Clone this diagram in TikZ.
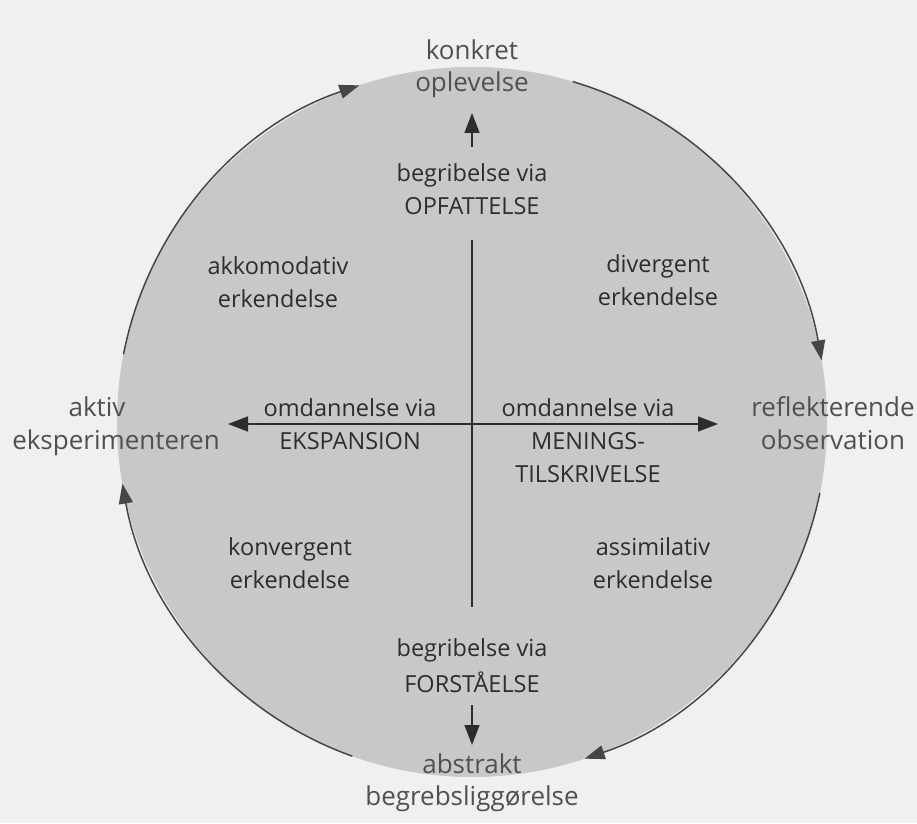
\documentclass[tikz,border=0pt]{standalone}
\usepackage{fontspec}
\setmainfont{Open Sans}
\usetikzlibrary{arrows.meta,calc}
\definecolor{bgpaper}{RGB}{240,240,238}
\definecolor{circfill}{RGB}{200,200,198}
\definecolor{inktext}{RGB}{45,45,45}
\definecolor{outtext}{RGB}{80,80,80}
\definecolor{arcink}{RGB}{70,70,70}
\tikzset{
  lbl/.style={anchor=base, inner sep=0pt, text=inktext, font=\fontsize{23.5}{30}\selectfont},
  outlbl/.style={lbl, text=outtext, font=\fontsize{26}{32}\selectfont},
  arcline/.style={draw=arcink, line width=1.5pt, -{Triangle[length=20pt,width=14pt]}},
  axisline/.style={draw=inktext, line width=1.5pt, -{Triangle[length=20pt,width=15pt]}},
  plainaxis/.style={draw=inktext, line width=1.5pt}
}
\begin{document}
\begin{tikzpicture}[x=1pt,y=1pt]
\useasboundingbox (0,0) rectangle (917,823);
\fill[bgpaper] (0,0) rectangle (917,823);
\coordinate (c) at (472,401);
\fill[circfill] (c) circle[radius=355];
% circle arcs, clockwise, broken at the four poles
\coordinate (a1) at ($(c)+(169:355)$);
\coordinate (a2) at ($(c)+(73.5:355)$);
\coordinate (a3) at ($(c)+(-11.5:355)$);
\coordinate (a4) at ($(c)+(-109.7:355)$);
\draw[arcline] (a1) arc[start angle=169, end angle=108.5, radius=355];
\draw[arcline] (a2) arc[start angle=73.5, end angle=10, radius=355];
\draw[arcline] (a3) arc[start angle=-11.5, end angle=-71.5, radius=355];
\draw[arcline] (a4) arc[start angle=-109.7, end angle=-170, radius=355];

% top
\node[outlbl] (konkret) at (472,763) {konkret};
\node[outlbl] (oplevelse) at (472,731) {oplevelse};
\node[lbl] (begrib1) at (472,641) {begribelse via};
\node[lbl] (opfatt) at (472,608) {OPFATTELSE};
\coordinate (upbase) at (472,676);
\coordinate (uptip) at (472,710);
\draw[axisline] (upbase) -- (uptip);

% vertical axis
\coordinate (vtop) at (472,583);
\coordinate (vbot) at (472,216);
\draw[plainaxis] (vtop) -- (vbot);

% quadrants
\node[lbl] (akk) at (278,548) {akkomodativ};
\node[lbl] (erk1) at (278,515) {erkendelse};
\node[lbl] (div) at (658,550) {divergent};
\node[lbl] (erk2) at (658,517) {erkendelse};
\node[lbl] (konv) at (290,268) {konvergent};
\node[lbl] (erk3) at (290,235) {erkendelse};
\node[lbl] (assim) at (653,268) {assimilativ};
\node[lbl] (erk4) at (653,235) {erkendelse};

% horizontal axis
\coordinate (hc) at (472,399);
\coordinate (ltip) at (228,399);
\coordinate (rtip) at (718,399);
\draw[axisline] (hc) -- (ltip);
\draw[axisline] (hc) -- (rtip);
\node[lbl] (omd1) at (350,407) {omdannelse via};
\node[lbl] (eksp) at (350,374) {EKSPANSION};
\node[lbl] (omd2) at (588,407) {omdannelse via};
\node[lbl] (men) at (588,374) {MENINGS-};
\node[lbl] (tilskr) at (588,341) {TILSKRIVELSE};
\node[outlbl] (aktiv) at (97,407) {aktiv};
\node[outlbl] (eksper) at (116,374) {eksperimenteren};
\node[outlbl] (refl) at (833,407) {reflekterende};
\node[outlbl] (obs) at (833,374) {observation};

% bottom
\node[lbl] (begrib2) at (472,167) {begribelse via};
\node[lbl] (forst) at (472,131) {FORSTÅELSE};
\coordinate (dnbase) at (472,118);
\coordinate (dntip) at (472,78);
\draw[axisline] (dnbase) -- (dntip);
\node[outlbl] (abstrakt) at (472,50) {abstrakt};
\node[outlbl] (begrebsl) at (472,18) {begrebsliggørelse};
\end{tikzpicture}
\end{document}
